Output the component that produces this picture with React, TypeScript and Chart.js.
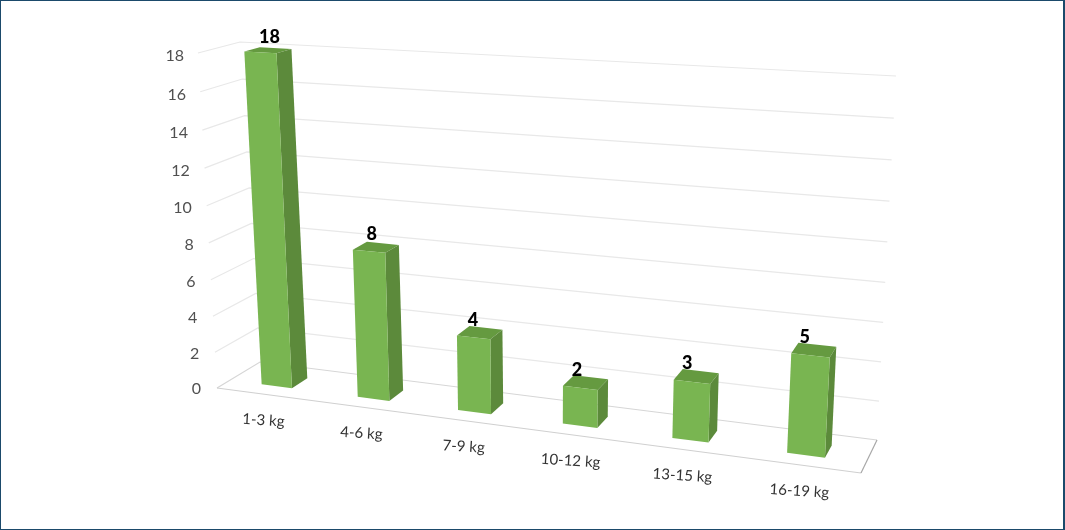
import React, { useEffect, useRef } from "react";
import { Chart, registerables } from "chart.js";

Chart.register(...registerables);

const categories = ["1-3 kg", "4-6 kg", "7-9 kg", "10-12 kg", "13-15 kg", "16-19 kg"];
const counts = [18, 8, 4, 2, 3, 5];

type Pt = [number, number];
// Box corners of the drawn 3D scene, on the canvas.
const floorFrontLeft: Pt = [217, 388];
const floorFrontRight: Pt = [861, 473];
const floorBackLeft: Pt = [260, 362];
const floorBackRight: Pt = [877, 440];
const topFrontLeft: Pt = [198, 53];
const topFrontRight: Pt = [882, 91];
const topBackLeft: Pt = [240, 42];
const topBackRight: Pt = [896, 76];
const perspU = 0.875;
const perspV = 0.955;
const barDepthFront = 0.3;
const barDepthBack = 0.68;

const lerp = (a: Pt, b: Pt, t: number): Pt => [a[0] + (b[0] - a[0]) * t, a[1] + (b[1] - a[1]) * t];
const warp = (s: number, k: number) => (k * s) / (1 + (k - 1) * s);

// u: along the categories, v: along the values, w: depth; all 0..1
function project(u: number, v: number, w: number): Pt {
  const t = warp(u, perspU);
  const h = warp(v, perspV);
  const bottom = lerp(lerp(floorFrontLeft, floorFrontRight, t), lerp(floorBackLeft, floorBackRight, t), w);
  const top = lerp(lerp(topFrontLeft, topFrontRight, t), lerp(topBackLeft, topBackRight, t), w);
  return lerp(bottom, top, h);
}

function poly(ctx: CanvasRenderingContext2D, pts: Pt[], fill: string) {
  ctx.beginPath();
  pts.forEach((p, i) => (i ? ctx.lineTo(p[0], p[1]) : ctx.moveTo(p[0], p[1])));
  ctx.closePath();
  ctx.fillStyle = fill;
  ctx.fill();
}

function line(ctx: CanvasRenderingContext2D, pts: Pt[], color: string, width = 1) {
  ctx.beginPath();
  pts.forEach((p, i) => (i ? ctx.lineTo(p[0], p[1]) : ctx.moveTo(p[0], p[1])));
  ctx.strokeStyle = color;
  ctx.lineWidth = width;
  ctx.stroke();
}

const scene3d = {
  id: "scene3d",
  beforeDatasetsDraw(chart: any) {
    const { ctx, scales } = chart;
    const x = scales.x;
    const y = scales.y;
    const vOf = (px: number) => (y.bottom - px) / (y.bottom - y.top);
    ctx.save();
    y.ticks.forEach((tick: any) => {
      const v = vOf(y.getPixelForValue(tick.value));
      if (tick.value === 0) {
        line(ctx, [project(0, 0, 0), project(0, 0, 1), project(1, 0, 1)], "#d6d6d6", 1.2);
      } else {
        line(ctx, [project(0, v, 0), project(0, v, 1), project(1, v, 1)], "#e8e8e8", 1.2);
      }
      const p = project(0, v, 0);
      ctx.font = "16px Lato";
      ctx.fillStyle = "#505050";
      ctx.textAlign = "right";
      ctx.textBaseline = "middle";
      ctx.fillText(String(tick.value), p[0] - 16 + 2 * v, p[1] + 1 + 2 * v);
    });
    line(ctx, [project(0, 0, 0), project(1, 0, 0)], "#d0d0d0", 1.2);
    line(ctx, [project(1, 0, 0), project(1, 0, 1)], "#a8a8a8", 1.2);
    categories.forEach((label, i) => {
      const u = (x.getPixelForValue(i) - x.left) / (x.right - x.left);
      const p = project(u, 0, 0);
      ctx.save();
      ctx.translate(p[0] - 1, p[1] + 26);
      ctx.rotate((3.5 * Math.PI) / 180);
      ctx.font = "15px Lato";
      ctx.fillStyle = "#333333";
      ctx.textAlign = "center";
      ctx.textBaseline = "middle";
      ctx.fillText(label, 0, 0);
      ctx.restore();
    });
    ctx.restore();
  },
  afterDatasetsDraw(chart: any) {
    const { ctx, scales } = chart;
    const x = scales.x;
    const y = scales.y;
    const meta = chart.getDatasetMeta(0);
    ctx.save();
    meta.data.forEach((bar: any, i: number) => {
      const u0 = (bar.x - bar.width / 2 - x.left) / (x.right - x.left);
      const u1 = (bar.x + bar.width / 2 - x.left) / (x.right - x.left);
      const v = (y.bottom - bar.y) / (y.bottom - y.top);
      const f = barDepthFront;
      const b = barDepthBack;
      poly(ctx, [project(u0, v, f), project(u1, v, f), project(u1, v, b), project(u0, v, b)], "#659a40");
      poly(ctx, [project(u1, 0, f), project(u1, 0, b), project(u1, v, b), project(u1, v, f)], "#5c8a3b");
      poly(ctx, [project(u0, 0, f), project(u1, 0, f), project(u1, v, f), project(u0, v, f)], "#79b551");
      const c = project((u0 + u1) / 2, v, b);
      ctx.font = "900 18px Lato";
      ctx.fillStyle = "#000000";
      ctx.textAlign = "center";
      ctx.textBaseline = "middle";
      ctx.fillText(String(counts[i]), c[0] - 15 + 9 * v, c[1] - 7 - 4 * v);
    });
    ctx.restore();
  },
};

export default function App() {
  const ref = useRef<HTMLCanvasElement>(null);
  useEffect(() => {
    const chart = new Chart(ref.current as HTMLCanvasElement, {
      type: "bar",
      data: {
        labels: categories,
        datasets: [
          {
            data: counts,
            backgroundColor: "transparent",
            barPercentage: 0.32,
            categoryPercentage: 1,
          },
        ],
      },
      options: {
        responsive: false,
        animation: false,
        events: [],
        plugins: { legend: { display: false }, tooltip: { enabled: false } },
        scales: {
          x: { type: "category", display: false },
          y: { type: "linear", display: false, min: 0, max: 18, ticks: { stepSize: 2 } },
        },
      },
      plugins: [scene3d],
    } as any);
    return () => chart.destroy();
  }, []);
  return (
    <div style={{ position: "fixed", left: 0, top: 0, width: 1065, height: 530, background: "#ffffff", overflow: "hidden" }}>
      <canvas ref={ref} width={1065} height={530} style={{ display: "block", filter: "blur(0.6px)" }} />
      <div
        style={{
          position: "absolute",
          inset: 0,
          boxSizing: "border-box",
          borderStyle: "solid",
          borderColor: "#1b4a6b",
          borderWidth: "1px 2px 1px 1px",
        }}
      />
    </div>
  );
}
